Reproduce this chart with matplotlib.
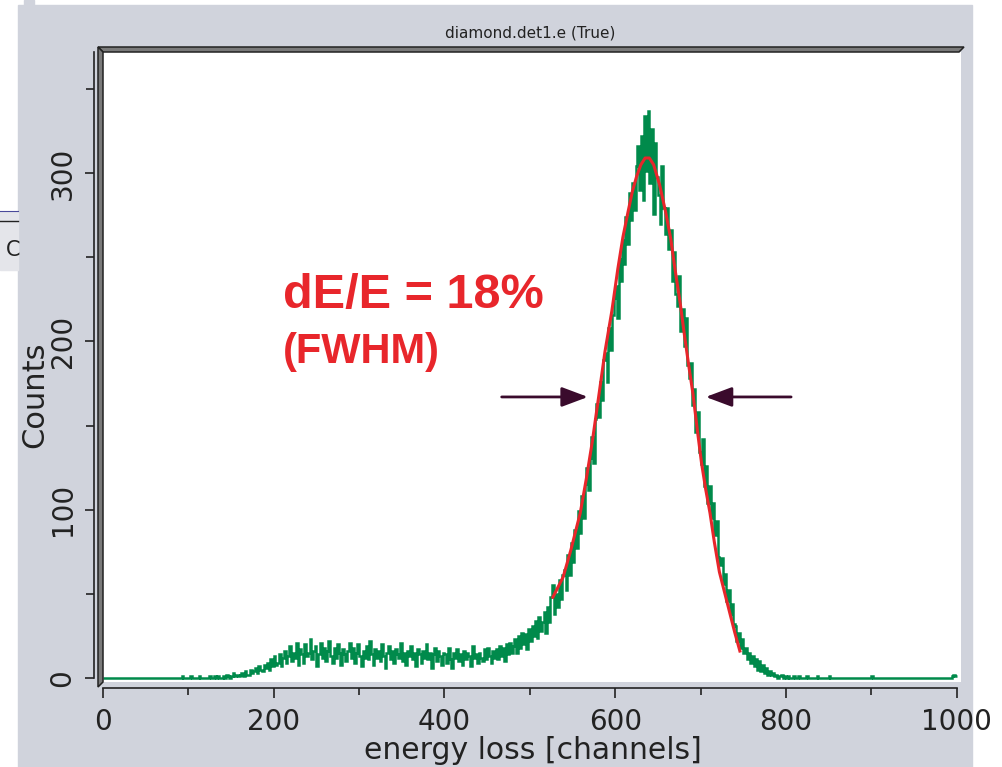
#!/usr/bin/env python3
"""plot.py - energy loss spectrum of the diamond detector (ROOT style look)."""
import numpy as np
import matplotlib
matplotlib.use("Agg")
import matplotlib.pyplot as plt
from matplotlib.patches import Rectangle, Polygon

W, H = 1002, 767

# --- data (2-channel bins, 0..1000) ---
bin_width = 2
counts = [
    0, 0, 0, 0, 0, 0, 0, 0, 0, 0,               # 0-19
    0, 0, 0, 0, 0, 0, 0, 0, 0, 0,               # 20-39
    0, 0, 0, 0, 0, 0, 0, 0, 0, 0,               # 40-59
    0, 0, 0, 0, 0, 0, 0, 0, 0, 0,               # 60-79
    0, 0, 0, 0, 0, 0, 1, 0, 0, 0,               # 80-99
    0, 1, 0, 0, 0, 0, 1, 0, 0, 0,               # 100-119
    0, 0, 1, 0, 0, 1, 0, 1, 0, 0,               # 120-139
    1, 0, 2, 1, 0, 1, 3, 1, 2, 1,               # 140-159
    2, 3, 1, 4, 2, 2, 5, 3, 4, 6,               # 160-179
    3, 7, 5, 4, 8, 6, 9, 5, 11, 7,              # 180-199
    13, 8, 9, 14, 7, 12, 16, 9, 13, 19,         # 200-219
    10, 15, 12, 21, 8, 17, 14, 9, 20, 13,       # 220-239
    15, 23, 11, 16, 19, 7, 14, 21, 12, 18,      # 240-259
    10, 16, 22, 13, 9, 18, 12, 20, 15, 8,       # 260-279
    17, 14, 10, 16, 21, 12, 18, 9, 15, 20,      # 280-299
    13, 7, 16, 12, 19, 11, 22, 14, 8, 17,       # 300-319
    12, 16, 10, 20, 13, 6, 15, 19, 11, 16,      # 320-339
    9, 17, 14, 12, 21, 10, 15, 8, 16, 13,       # 340-359
    19, 11, 15, 7, 17, 14, 9, 16, 12, 20,       # 360-379
    11, 15, 6, 14, 18, 10, 16, 13, 8, 15,       # 380-399
    14, 9, 18, 11, 6, 15, 12, 17, 10, 14,       # 400-419
    8, 16, 11, 15, 13, 7, 19, 12, 14, 9,        # 420-439
    15, 12, 10, 17, 11, 18, 13, 9, 16, 12,      # 440-459
    17, 11, 19, 13, 18, 10, 20, 14, 21, 15,     # 460-479
    19, 23, 15, 25, 18, 27, 20, 26, 17, 29,     # 480-499
    22, 31, 25, 34, 24, 36, 28, 33, 39, 27,     # 500-519
    42, 33, 48, 55, 38, 50, 42, 58, 47, 61,     # 520-539
    64, 52, 73, 61, 80, 69, 88, 77, 99, 86,     # 540-559
    108, 95, 115, 125, 112, 131, 143, 128, 154, 163,   # 560-579
    155, 176, 165, 189, 193, 176, 208, 195, 216, 226,  # 580-599
    233, 214, 249, 236, 260, 246, 274, 258, 288, 272,  # 600-619
    294, 278, 304, 316, 290, 322, 284, 334, 301, 337,  # 620-639
    294, 326, 276, 318, 298, 287, 270, 304, 279, 264,  # 640-659
    279, 255, 266, 236, 253, 228, 221, 239, 206, 219,  # 660-679
    197, 214, 186, 178, 187, 162, 172, 146, 158, 134,  # 680-699
    127, 142, 114, 126, 104, 114, 95, 104, 85, 93,     # 700-719
    72, 67, 71, 56, 62, 46, 52, 38, 44, 32,     # 720-739
    31, 22, 27, 18, 23, 15, 18, 11, 15, 9,      # 740-759
    13, 7, 11, 5, 10, 4, 8, 3, 6, 2,            # 760-779
    4, 2, 3, 1, 2, 0, 1, 2, 0, 1,               # 780-799
    0, 1, 0, 0, 1, 0, 0, 1, 0, 0,               # 800-819
    0, 0, 1, 0, 0, 0, 0, 0, 1, 0,               # 820-839
    0, 0, 0, 0, 0, 1, 0, 0, 0, 0,               # 840-859
    0, 0, 0, 0, 0, 0, 0, 0, 0, 0,               # 860-879
    0, 0, 0, 0, 0, 0, 0, 0, 0, 0,               # 880-899
    1, 0, 0, 0, 0, 0, 0, 0, 0, 0,               # 900-919
    0, 0, 0, 0, 0, 0, 0, 0, 0, 0,               # 920-939
    0, 0, 0, 0, 0, 0, 0, 0, 0, 0,               # 940-959
    0, 0, 0, 0, 0, 0, 0, 0, 0, 0,               # 960-979
    0, 0, 0, 0, 0, 0, 0, 1, 2, 1,               # 980-999
]

# fitted curve, points
fit_x = [527, 533, 539, 548, 559, 566, 573, 580, 588, 596, 603, 609, 615,
         620, 625, 630, 635, 640, 645, 652, 659, 665, 670, 676, 681, 686,
         691, 696, 701, 706, 711, 716, 722, 728, 734, 740, 746]
fit_y = [48, 54, 60, 76, 98, 118, 140, 165, 194, 218, 243, 262, 277,
         289, 298, 305, 309, 309, 305, 293, 277, 261, 243, 223, 204, 186,
         169, 148, 128, 112, 98, 81, 63, 51, 39, 27, 16]

# FWHM arrows (tail x, head x) at height arrow_y
arrows = [(467, 568), (806, 706)]
arrow_y = 167

title = "diamond.det1.e (True)"
xlabel = "energy loss [channels]"
ylabel = "Counts"
note1 = "dE/E = 18%"
note2 = "(FWHM)"

PANEL = "#d0d3dc"
GREEN = "#008a4b"
RED = "#e8262b"
DARK = "#222222"
ARROW = "#3a0b2c"


def fx(x):
    return x / W


def fy(y):
    return 1 - y / H


fig = plt.figure(figsize=(W / 100, H / 100), dpi=100, facecolor="white")

# grey canvas and the leftovers of a window behind it
fig.add_artist(Rectangle((fx(18), fy(767)), fx(972) - fx(18), fy(5) - fy(767),
                         transform=fig.transFigure, color=PANEL, zorder=0))
fig.add_artist(Rectangle((fx(24), fy(5)), fx(10), 5 / H,
                         transform=fig.transFigure, color=PANEL, zorder=0))
fig.add_artist(Rectangle((0, fy(270)), fx(18), fy(212) - fy(270),
                         transform=fig.transFigure, color="#e4e5ea", zorder=0))
fig.add_artist(plt.Line2D([0, fx(18)], [fy(211), fy(211)], transform=fig.transFigure,
                          color="#4a4a9a", lw=0.8))
fig.add_artist(plt.Line2D([0, fx(18)], [fy(221), fy(221)], transform=fig.transFigure,
                          color=DARK, lw=1.0))
fig.text(fx(6), fy(250), "C", fontsize=15, color=DARK, va="center", ha="left",
         family="DejaVu Sans")

ax = fig.add_axes([fx(103), fy(682), fx(961) - fx(103), fy(52) - fy(682)])
ax.set_facecolor("white")

edges = np.arange(0, len(counts) * bin_width + 1, bin_width)
ax.stairs(counts, edges, color=GREEN, lw=1.8, baseline=None)
ax.plot(fit_x, fit_y, color=RED, lw=2.2)

for x0, x1 in arrows:
    ax.annotate("", xy=(x1, arrow_y), xytext=(x0, arrow_y),
                arrowprops=dict(arrowstyle="-|>,head_length=0.8,head_width=0.3",
                                color=ARROW, lw=2.0, mutation_scale=20,
                                shrinkA=0, shrinkB=0))

ax.text(211, 227, note1, color=RED, fontsize=35, fontweight="bold",
        family="Liberation Sans", ha="left", va="center")
ax.text(211, 194, note2, color=RED, fontsize=30, fontweight="bold",
        family="Liberation Sans", ha="left", va="center")

ax.set_xlim(0, 1005)
ax.set_ylim(-2.4, 372)

# ROOT-like detached axes
for s in ("top", "right"):
    ax.spines[s].set_visible(False)
ax.spines["left"].set_position(("outward", 6.5))
ax.spines["left"].set_bounds(0, 372)
ax.spines["bottom"].set_position(("outward", 4.3))
ax.spines["bottom"].set_bounds(0, 1000)
for s in ("left", "bottom"):
    ax.spines[s].set_color(DARK)
    ax.spines[s].set_linewidth(1.2)

ax.set_xticks(np.arange(0, 1001, 200))
ax.set_xticks(np.arange(100, 1000, 200), minor=True)
ax.set_yticks(np.arange(0, 301, 100))
ax.set_yticks(np.arange(50, 351, 100), minor=True)
ax.tick_params(axis="x", which="major", length=7.5, width=1.2, color=DARK,
               labelsize=20, pad=7, labelcolor=DARK)
ax.tick_params(axis="x", which="minor", length=5, width=1.2, color=DARK)
ax.tick_params(axis="y", which="major", length=6.5, width=1.2, color=DARK,
               labelsize=20, pad=6, labelcolor=DARK)
ax.tick_params(axis="y", which="minor", length=5.5, width=1.2, color=DARK)
plt.setp(ax.get_yticklabels(), rotation=90, va="center")

ax.set_xlabel(xlabel, fontsize=21.5, color=DARK)
ax.set_ylabel(ylabel, fontsize=22, color=DARK)
ax.xaxis.set_label_coords(0.501, -0.108)
ax.yaxis.set_label_coords(-0.079, 0.456)
ax.xaxis.label.set_va("center")
ax.yaxis.label.set_va("center")

# bevelled double frame on top and left of the plot area
top = Polygon([(fx(98), fy(47)), (fx(964), fy(47)), (fx(959), fy(52)), (fx(103), fy(52))],
              closed=True, transform=fig.transFigure, facecolor="#7a7a7a",
              edgecolor=DARK, lw=1.1, zorder=5)
left = Polygon([(fx(98), fy(47)), (fx(103), fy(52)), (fx(103), fy(682)), (fx(98), fy(687))],
               closed=True, transform=fig.transFigure, facecolor="#7a7a7a",
               edgecolor=DARK, lw=1.1, zorder=5)
fig.add_artist(top)
fig.add_artist(left)

fig.text(fx(530), fy(33), title, fontsize=11, color=DARK, ha="center", va="center")

fig.savefig("out.png", dpi=100, facecolor="white")
print("saved out.png")
